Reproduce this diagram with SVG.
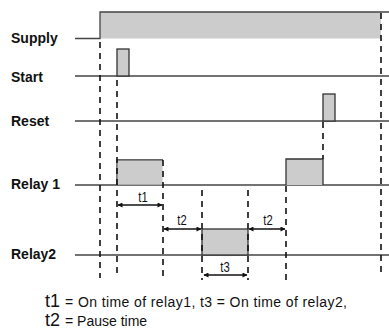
<svg xmlns="http://www.w3.org/2000/svg" width="389" height="332" viewBox="0 0 389 332">
<defs>
<style>
.lbl{font-family:"Liberation Sans",Arial,sans-serif;font-weight:bold;font-size:14px;fill:#111}
.tl{font-family:"Liberation Sans",Arial,sans-serif;font-size:15px;fill:#111}
.big{font-family:"Liberation Sans",Arial,sans-serif;font-size:18px;fill:#111}
.note{font-family:"Liberation Sans",Arial,sans-serif;font-size:14px;fill:#111}
.base{stroke:#444;stroke-width:1.3;fill:none}
.pulse{fill:#cccccc;stroke:#333;stroke-width:1.3}
.dash{stroke:#111;stroke-width:1.6;stroke-dasharray:6 5;fill:none}
.arr{stroke:#111;stroke-width:1.3;fill:none;marker-start:url(#ah);marker-end:url(#ah)}
</style>
<marker id="ah" viewBox="0 0 10 10" refX="9" refY="5" markerWidth="6" markerHeight="5" orient="auto-start-reverse" markerUnits="userSpaceOnUse">
<path d="M0,0 L10,5 L0,10 z" fill="#111"/>
</marker>
</defs>
<rect width="389" height="332" fill="#fff"/>
<g id="labels">
<text class="lbl" x="11" y="43">Supply</text>
<text class="lbl" x="11" y="82">Start</text>
<text class="lbl" x="11" y="126">Reset</text>
<text class="lbl" x="11" y="189">Relay 1</text>
<text class="lbl" x="11" y="259">Relay2</text>
</g>
<g id="supply">
<rect x="100" y="12" width="281" height="26.5" fill="#cccccc"/>
<path class="base" d="M75,38.5 H100 V12 H389"/>
</g>
<g id="start">
<line class="base" x1="75" y1="76" x2="389" y2="76"/>
<rect class="pulse" x="117" y="49" width="12" height="27"/>
</g>
<g id="reset">
<line class="base" x1="75" y1="121" x2="389" y2="121"/>
<rect class="pulse" x="323" y="94" width="12" height="27"/>
</g>
<g id="relay1">
<line class="base" x1="75" y1="185" x2="389" y2="185"/>
<path class="pulse" d="M117,185 V160 H163"/>
<rect x="117.6" y="160.6" width="45" height="24" fill="#cccccc"/>
<path class="pulse" d="M286,185 V159 H323 V185"/>
</g>
<g id="relay2">
<line class="base" x1="75" y1="255" x2="389" y2="255"/>
<rect class="pulse" x="202" y="229" width="46" height="26"/>
</g>
<g id="connectors">
<line class="dash" x1="100" y1="42" x2="100" y2="278"/>
<line class="dash" x1="117" y1="80" x2="117" y2="278"/>
<line class="dash" x1="163" y1="160" x2="163" y2="280"/>
<line class="dash" x1="202" y1="190" x2="202" y2="280"/>
<line class="dash" x1="248" y1="190" x2="248" y2="280"/>
<line class="dash" x1="286" y1="186" x2="286" y2="280"/>
<line class="dash" x1="323" y1="122" x2="323" y2="159"/>
<line class="dash" x1="381" y1="13" x2="381" y2="277"/>
<line class="arr" x1="118" y1="205" x2="162" y2="205"/>
<line class="arr" x1="164" y1="229" x2="201" y2="229"/>
<line class="arr" x1="204" y1="275" x2="247" y2="275"/>
<line class="arr" x1="249" y1="229" x2="285" y2="229"/>
</g>
<g id="timelabels">
<text class="tl" text-anchor="middle" transform="translate(143,202) scale(0.75,1)">t1</text>
<text class="tl" text-anchor="middle" transform="translate(182,225) scale(0.75,1)">t2</text>
<text class="tl" text-anchor="middle" transform="translate(225,272) scale(0.75,1)">t3</text>
<text class="tl" text-anchor="middle" transform="translate(268,225) scale(0.75,1)">t2</text>
</g>
<g id="legend">
<text class="big" x="45" y="307">t1</text>
<text class="note" x="65" y="307" textLength="282" lengthAdjust="spacing">= On time of relay1, t3 = On time of relay2,</text>
<text class="big" x="45" y="326">t2</text>
<text class="note" x="65" y="326">= Pause time</text>
</g>
</svg>
